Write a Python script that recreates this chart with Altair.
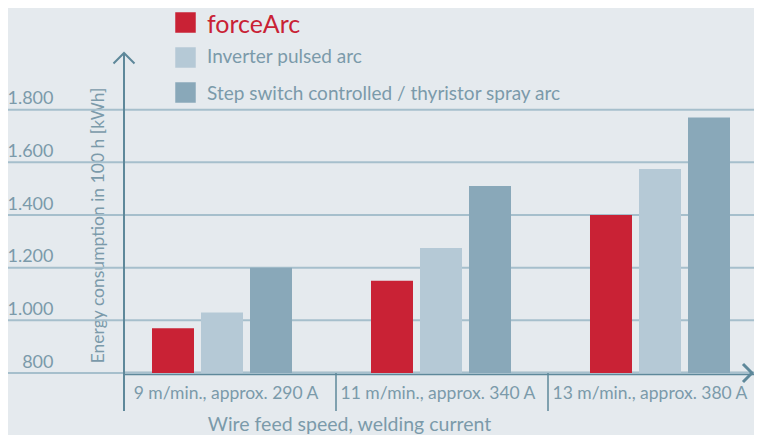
import altair as alt
import pandas as pd

categories = ["9 m/min., approx. 290 A", "11 m/min., approx. 340 A", "13 m/min., approx. 380 A"]
series = ["forceArc", "Inverter pulsed arc", "Step switch controlled / thyristor spray arc"]
force_arc = [970, 1150, 1400]
inverter = [1030, 1275, 1575]
step_switch = [1200, 1510, 1770]
colors = ["#c92235", "#b5c9d6", "#89a8b9"]
y_ticks = [800, 1000, 1200, 1400, 1600, 1800]

rows = []
for s, vals in zip(series, [force_arc, inverter, step_switch]):
    for c, v in zip(categories, vals):
        rows.append({"category": c, "series": s, "value": v})
df = pd.DataFrame(rows)

W, H = 630, 316
BAND_END = 636
TEXT = "#7b9aaa"
AXIS = "#5e889a"
GRID = "#a6bfcc"
BG = "#e5eaee"
FONT = "Lato"

yscale = alt.Scale(domain=[800, 2000], nice=False, zero=False)

grid = alt.Chart(pd.DataFrame({"v": y_ticks})).mark_rule(color=GRID, strokeWidth=2).encode(
    y=alt.Y("v:Q", scale=yscale, axis=alt.Axis(
        values=y_ticks, ticks=False, domain=False, grid=False,
        labelExpr="replace(format(datum.value, ','), ',', '.')",
        labelFont=FONT, labelFontSize=18, labelColor=TEXT, labelPadding=71,
        labelBaseline="alphabetic", labelOffset=-6,
        title="Energy consumption in 100 h [kWh]", titleFont=FONT, titleFontSize=17.5,
        titleColor=TEXT, titleFontWeight="normal", titleX=-26, titleY=168,
        titleAngle=270, titleAlign="center", titleBaseline="middle")),
    x=alt.value(-124), x2=alt.value(W + 2),
)

bars = alt.Chart(df).mark_bar().encode(
    x=alt.X("category:N", sort=categories,
            scale=alt.Scale(range=[-11.5, BAND_END + 9.5], paddingInner=0, paddingOuter=0), axis=None),
    xOffset=alt.XOffset("series:N", sort=series,
                        scale=alt.Scale(paddingInner=0.143, paddingOuter=0.806)),
    y=alt.Y("value:Q", scale=yscale),
    y2=alt.datum(800),
    color=alt.Color("series:N", sort=series, scale=alt.Scale(domain=series, range=colors), legend=None),
)

sep = alt.Chart(pd.DataFrame({"category": categories})).mark_rule(color=AXIS, strokeWidth=1.5).encode(
    x=alt.X("category:N", sort=categories, bandPosition=0,
            scale=alt.Scale(range=[0, BAND_END], paddingInner=0, paddingOuter=0),
            axis=alt.Axis(ticks=False, domain=True, domainColor=AXIS, domainWidth=3.5,
                          labelAngle=0, labelFont=FONT, labelFontSize=17.5, labelColor=TEXT,
                          labelLimit=0, labelPadding=20, labelBaseline="middle", labelOffset=-4,
                          title="Wire feed speed, welding current", titleFont=FONT,
                          titleFontSize=19.5, titleColor=TEXT, titleFontWeight="normal",
                          titleX=225, titleY=51, titleAlign="center", titleBaseline="middle")),
    y=alt.value(H), y2=alt.value(H + 38),
)

one = pd.DataFrame({"a": [0]})
yaxis_line = alt.Chart(one).mark_rule(color=AXIS, strokeWidth=2).encode(
    x=alt.value(0), y=alt.value(-4), y2=alt.value(H + 38))
arrow_up = alt.Chart(one).mark_point(shape="M-1,1L0,0L1,1", size=441, filled=False,
                                     stroke=AXIS, strokeWidth=2, opacity=1).encode(
    x=alt.value(0), y=alt.value(-4))
arrow_right = alt.Chart(one).mark_point(shape="M-1,-1L0,0L-1,1", size=324, filled=False,
                                        stroke=AXIS, strokeWidth=3, opacity=1).encode(
    x=alt.value(W - 2), y=alt.value(H))

legend_layers = []
sq_y = [-34.5, 0.5, 35.5]
txt_y = [-23.7, 6.3, 42.5]
txt_size = [25, 19, 19]
txt_color = [colors[0], TEXT, TEXT]
for i, s in enumerate(series):
    legend_layers.append(alt.Chart(one).mark_square(size=420, color=colors[i], opacity=1).encode(
        x=alt.value(61.5), y=alt.value(sq_y[i])))
    legend_layers.append(alt.Chart(one).mark_text(
        text=s, font=FONT, fontSize=txt_size[i], color=txt_color[i], align="left",
        baseline="alphabetic").encode(x=alt.value(83), y=alt.value(txt_y[i])))

chart = alt.layer(grid, bars, sep, yaxis_line, arrow_up, arrow_right, *legend_layers).resolve_scale(
    x="independent"
).properties(
    width=W, height=H,
    padding={"left": 116, "top": 49, "right": 0, "bottom": 62},
    autosize=alt.AutoSizeParams(type="none"),
    background=BG,
).configure_view(stroke=None)

chart.save("out.html", embed_options={"renderer": "svg", "actions": False})
